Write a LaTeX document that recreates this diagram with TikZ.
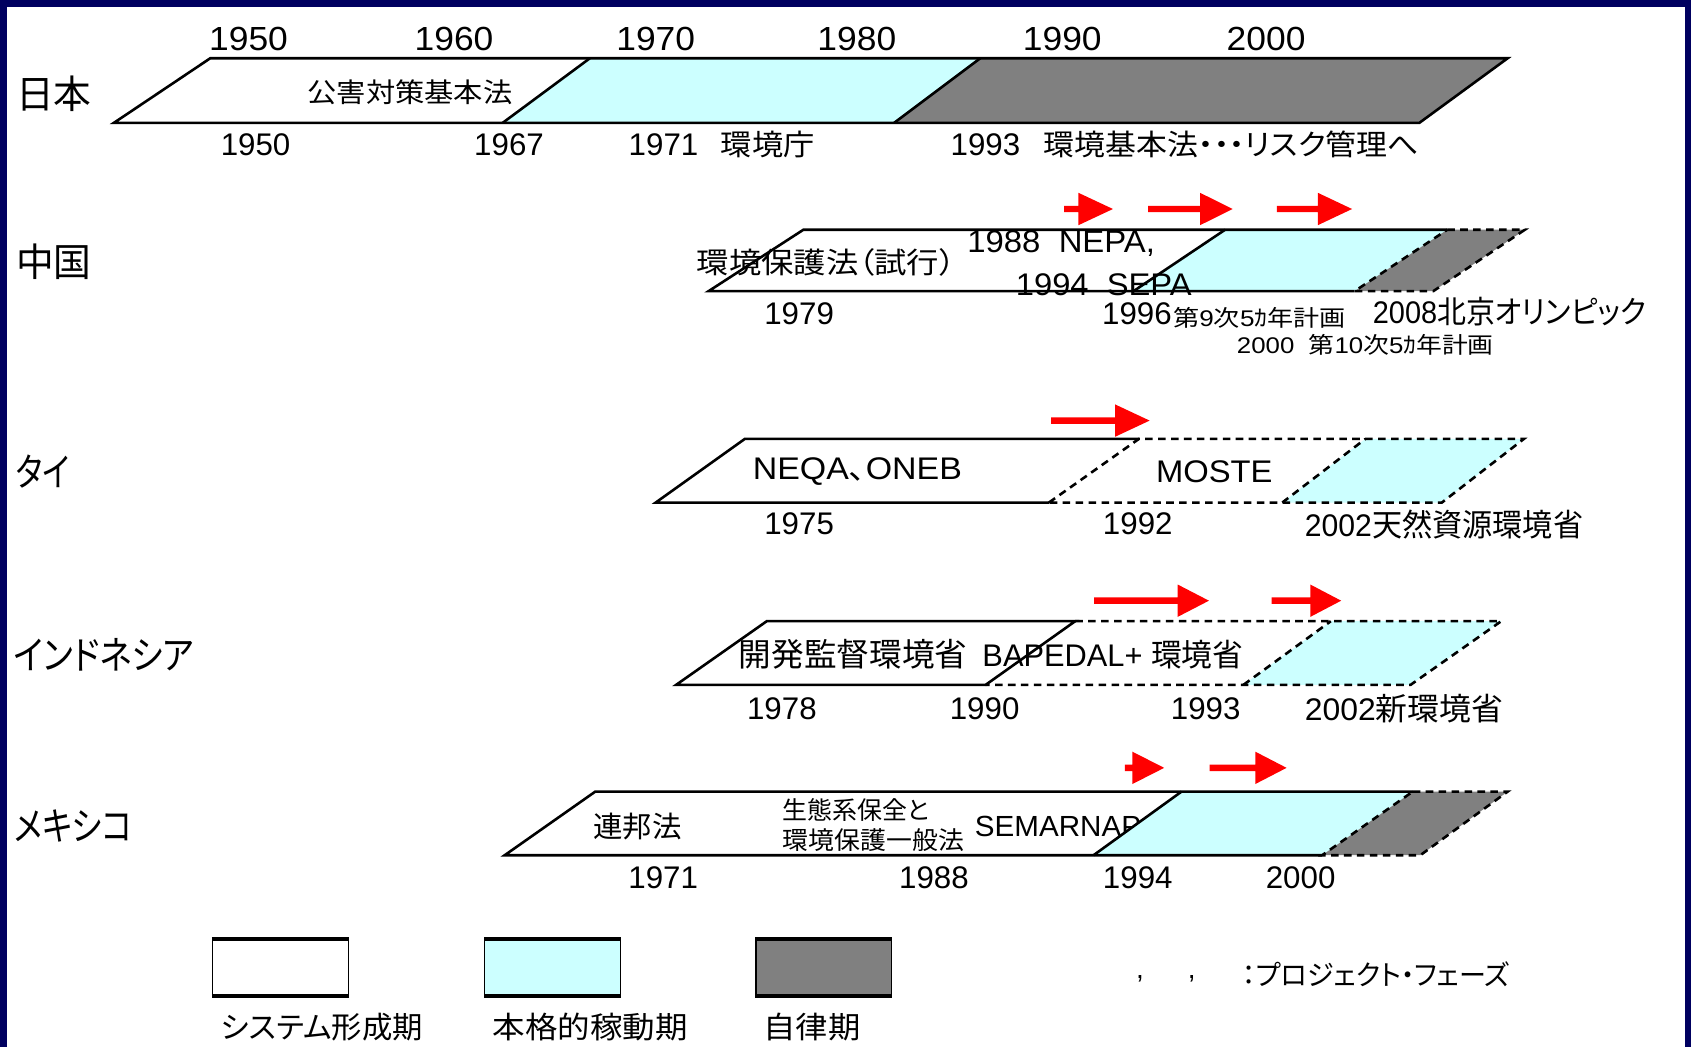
\documentclass[tikz,border=0pt]{standalone}
\usepackage{fontspec}
\usepackage{graphicx}
\setmainfont{Liberation Sans}
\newfontfamily\jp[RawFeature={+palt}]{Noto Sans CJK JP}
\newcommand\fs[1]{\fontsize{#1}{#1}\selectfont}
\newcommand\fitw[2]{\resizebox{#1pt}{\height}{#2}}
\definecolor{navyb}{RGB}{0,0,96}
\definecolor{cyanph}{RGB}{204,255,255}
\definecolor{grayph}{RGB}{128,128,128}
\definecolor{arrred}{RGB}{255,0,0}
\newcommand\rarr[4]{\fill[arrred] (#1,#4-3) -- (#2,#4-3) -- (#2,#4-15) -- (#3,#4) -- (#2,#4+15) -- (#2,#4+3) -- (#1,#4+3) -- cycle;}
\begin{document}
\begin{tikzpicture}[x=1pt,y=-1pt,
  txt/.style={inner sep=0pt,outer sep=0pt,text=black},
  wph/.style={fill=white},
  cph/.style={fill=cyanph},
  gph/.style={fill=grayph},
  sol/.style={draw=black,line width=2.4pt,line join=miter},
  dsh/.style={draw=black,line width=2.4pt,dash pattern=on 7pt off 5pt},
  legbox/.style={draw=black,line width=1pt,minimum width=126pt,minimum height=52pt,inner sep=0pt},
]
\useasboundingbox (0,0) rectangle (1568,971);
\fill[navyb] (0,0) rectangle (1568,971);
\fill[white] (6.5,6.5) rectangle (1562.5,971);

% ---------- Japan ----------
\fill[wph] (105.5,114) -- (195,54) -- (547,54) -- (466,114) -- cycle;
\fill[cph] (466,114) -- (547,54) -- (909,54) -- (829,114) -- cycle;
\fill[gph] (829,114) -- (909,54) -- (1398,54) -- (1316,114) -- cycle;
\node[txt,anchor=west] (jp) at (15,87) {\fs{36}\fitw{70}{\jp 日本}};
\foreach \x/\t in {230.5/1950,421/1960,608/1970,794.5/1980,985/1990,1174/2000}
  \node[txt] (top\t) at (\x,36) {\fs{31}\fitw{73}{\t}};
\node[txt] (jkogai) at (380.25,86) {\fs{25}\fitw{190}{\jp 公害対策基本法}};
\node[txt] (j1950) at (237,134) {\fs{29}1950};
\node[txt] (j1967) at (472,134) {\fs{29}1967};
\node[txt,anchor=west] (j1971) at (583,134) {\fs{29}1971};
\node[txt,anchor=west] (jcho) at (668.5,134) {\fs{27}\fitw{87}{\jp 環境庁}};
\node[txt,anchor=west] (j1993) at (881.5,134) {\fs{29}1993};
\node[txt,anchor=west] (jkihon) at (968,134) {\fs{27}\fitw{348}{\jp 環境基本法・・・リスク管理へ}};
\draw[sol] (105.5,114) -- (195,54) -- (1398,54) -- (1316,114) -- cycle;
\draw[sol] (466,114) -- (547,54);
\draw[sol] (829,114) -- (909,54);

% ---------- China ----------
\fill[wph] (657,270) -- (745,213) -- (1136,213) -- (1051,270) -- cycle;
\fill[cph] (1051,270) -- (1136,213) -- (1342,213) -- (1256,270) -- cycle;
\fill[gph] (1256,270) -- (1342,213) -- (1414,213) -- (1329,270) -- cycle;
\node[txt,anchor=west] (cn) at (15,243) {\fs{36}\fitw{70}{\jp 中国}};
\node[txt] (cnlaw) at (766,243) {\fs{27}\fitw{240}{\jp 環境保護法（試行）}};
\node[txt,anchor=west] (nepa) at (897,226) {\fs{29}\fitw{174}{1988~~NEPA,}};
\node[txt,anchor=west] (sepa) at (942,264) {\fs{29}\fitw{163}{1994~~SEPA}};
\draw[sol] (1342,213) -- (745,213) -- (657,270) -- (1256,270);
\draw[sol] (1051,270) -- (1136,213);
\draw[dsh] (1342,213) -- (1414,213) -- (1329,270) -- (1256,270) -- cycle;
\node[txt] (c1979) at (741,291) {\fs{29}1979};
\node[txt,anchor=west] (c1996) at (1022,291) {\fs{29}1996};
\node[txt,anchor=west] (c9th) at (1088,295) {\fs{21}\fitw{160}{{\jp 第}9{\jp 次}5{\jp ｶ年計画}}};
\node[txt,anchor=west] (c2008) at (1273,289) {\fs{29}\fitw{254}{2008{\jp 北京オリンピック}}};
\node[txt,anchor=west] (c10th) at (1147,320) {\fs{21}\fitw{238}{2000~~{\jp 第}10{\jp 次}5{\jp ｶ年計画}}};

% ---------- Thailand ----------
\fill[wph] (608,466) -- (690.6,407) -- (1266,407) -- (1189,466) -- cycle;
\fill[cph] (1189,466) -- (1266,407) -- (1413,407) -- (1337,466) -- cycle;
\node[txt,anchor=west] (th) at (15,437) {\fs{36}\fitw{50}{\jp タイ}};
\node[txt] (neqa) at (795,437) {\fs{29}\fitw{194}{NEQA{\jp 、}ONEB}};
\node[txt] (moste) at (1126,437) {\fs{29}\fitw{108}{MOSTE}};
\draw[sol] (1056,407) -- (690.6,407) -- (608,466) -- (972.6,466);
\draw[dsh] (972.6,466) -- (1056,407) -- (1413,407) -- (1337,466) -- cycle;
\draw[dsh] (1189,466) -- (1266,407);
\node[txt] (t1975) at (741,486) {\fs{29}1975};
\node[txt] (t1992) at (1055,486) {\fs{29}1992};
\node[txt,anchor=west] (t2002) at (1210,486) {\fs{29}\fitw{258}{2002{\jp 天然資源環境省}}};

% ---------- Indonesia ----------
\fill[wph] (627,635) -- (711,576) -- (1234,576) -- (1153,635) -- cycle;
\fill[cph] (1153,635) -- (1234,576) -- (1392,576) -- (1308,635) -- cycle;
\node[txt,anchor=west] (id) at (13,607) {\fs{36}\fitw{167}{\jp インドネシア}};
\node[txt] (kaihatsu) at (791,607) {\fs{30}\fitw{212}{\jp 開発監督環境省}};
\node[txt,anchor=west] (bapedal) at (911,607) {\fs{29}\fitw{242}{BAPEDAL+ {\jp 環境省}}};
\draw[sol] (914,635) -- (627,635) -- (711,576) -- (997,576) -- cycle;
\draw[dsh] (997,576) -- (1392,576) -- (1308,635) -- (914,635);
\draw[dsh] (1153,635) -- (1234,576);
\node[txt] (i1978) at (725,657) {\fs{29}1978};
\node[txt] (i1990) at (913,657) {\fs{29}1990};
\node[txt] (i1993) at (1118,657) {\fs{29}1993};
\node[txt,anchor=west] (i2002) at (1210,657) {\fs{29}\fitw{184}{2002{\jp 新環境省}}};

% ---------- Mexico ----------
\fill[wph] (468,793) -- (552,734) -- (1095.6,734) -- (1014,793) -- cycle;
\node[txt,anchor=west] (semarnap) at (904,766) {\fs{27}\fitw{154}{SEMARNAP}};
\fill[cph] (1014,793) -- (1095.6,734) -- (1310,734) -- (1226,793) -- cycle;
\fill[gph] (1226,793) -- (1310,734) -- (1398,734) -- (1317,793) -- cycle;
\node[txt,anchor=west] (mx) at (13,766) {\fs{36}\fitw{110}{\jp メキシコ}};
\node[txt] (renpo) at (591,766) {\fs{27}\fitw{82}{\jp 連邦法}};
\node[txt,anchor=west] (seitai) at (726,751) {\fs{23}\fitw{136}{\jp 生態系保全と}};
\node[txt,anchor=west] (ippan) at (726,779) {\fs{23}\fitw{168}{\jp 環境保護一般法}};
\draw[sol] (1310,734) -- (552,734) -- (468,793) -- (1226,793);
\draw[sol] (1014,793) -- (1095.6,734);
\draw[dsh] (1310,734) -- (1398,734) -- (1317,793) -- (1226,793) -- cycle;
\node[txt] (m1971) at (615,814) {\fs{29}1971};
\node[txt] (m1988) at (866,814) {\fs{29}1988};
\node[txt] (m1994) at (1055,814) {\fs{29}1994};
\node[txt] (m2000) at (1206,814) {\fs{29}2000};

% ---------- red phase arrows ----------
\rarr{986.6}{1000}{1032}{193.8}
\rarr{1064.5}{1112.8}{1143}{193.8}
\rarr{1184}{1222}{1253.7}{193.8}
\rarr{974.6}{1034}{1066}{390}
\rarr{1014.6}{1092}{1121}{557}
\rarr{1179}{1215}{1243.6}{557}
\rarr{1043}{1050}{1079.5}{712}
\rarr{1121.7}{1164}{1193}{712}

% ---------- legend ----------
\node[legbox,fill=white] (lw) at (260,897) {};
\node[legbox,fill=cyanph] (lc) at (512.5,897) {};
\node[legbox,fill=grayph] (lg) at (764,897) {};
\foreach \b in {lw,lc,lg} {
  \draw[line width=3.5pt] (\b.north west) -- (\b.north east);
  \draw[line width=3.5pt] (\b.south west) -- (\b.south east);
}
\node[txt] (l1) at (298.5,952) {\fs{28}\fitw{187}{\jp システム形成期}};
\node[txt] (l2) at (547.5,952) {\fs{28}\fitw{181}{\jp 本格的稼動期}};
\node[txt] (l3) at (753,952) {\fs{28}\fitw{90}{\jp 自律期}};
\node[txt] (cm1) at (1057,908) {\fs{26},};
\node[txt] (cm2) at (1105,908) {\fs{26},};
\node[txt,anchor=west] (phase) at (1152,903) {\fs{26}\fitw{248}{\jp ：プロジェクト・フェーズ}};
\end{tikzpicture}
\end{document}
